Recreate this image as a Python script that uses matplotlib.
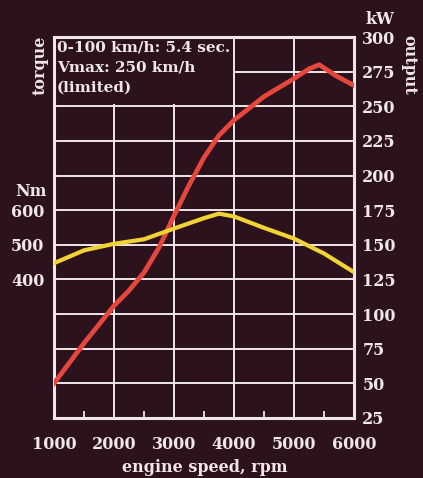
import matplotlib
matplotlib.use("Agg")
import matplotlib.pyplot as plt
from matplotlib.patches import Rectangle

# ---- data ----
rpm_power = [1000, 1500, 2000, 2250, 2500, 2750, 3000, 3250, 3500, 3750, 4000,
             4500, 5000, 5250, 5420, 5700, 6000]
power_kw = [50, 79, 106, 117, 130, 148, 171, 193, 213, 229, 240,
            257, 270, 277, 280, 272, 265]

rpm_torque = [1000, 1500, 2000, 2500, 3000, 3500, 3750, 4000, 4500, 5000, 5500, 6000]
torque_nm = [447, 484, 503, 516, 547, 577, 590, 582, 549, 518, 475, 421]

x_ticks = [1000, 2000, 3000, 4000, 5000, 6000]
kw_ticks = [25, 50, 75, 100, 125, 150, 175, 200, 225, 250, 275, 300]
nm_ticks = [400, 500, 600]
info_lines = ["0-100 km/h: 5.4 sec.", "Vmax: 250 km/h", "(limited)"]

# ---- style ----
BG = "#2c121c"
FG = "#efe6e8"
RED = "#e5473d"
YEL = "#f2d335"
FS = 11.5
plt.rcParams["font.family"] = ["DejaVu Serif"]
plt.rcParams["font.weight"] = "bold"

fig = plt.figure(figsize=(4.23, 4.78), dpi=100)
fig.patch.set_facecolor(BG)
ax = fig.add_axes([54/423, 1-418/478, 300/423, 381/478])
ax2 = ax.twinx()

ax.set_facecolor(BG)
ax.set_xlim(1000, 6000)
ax.set_ylim(25, 300)
ax.set_xticks(x_ticks)
ax.set_xticks([x + 500 for x in x_ticks[:-1]], minor=True)
ax.set_yticks(kw_ticks)
ax.grid(True, which="major", color=FG, linewidth=1.4)
ax.set_axisbelow(True)
ax.yaxis.tick_right()
ax.yaxis.set_label_position("right")
ax.tick_params(axis="y", which="both", length=0, pad=6, labelsize=FS,
               labelcolor=FG)
ax.tick_params(axis="x", which="major", length=0, pad=13, labelsize=FS,
               labelcolor=FG)
ax.tick_params(axis="x", which="minor", direction="in", length=5, width=1.3,
               color=FG)
for sp in ax.spines.values():
    sp.set_color(FG)
    sp.set_linewidth(2.2)

# info box hiding the grid
ax.add_patch(Rectangle((1000, 252), 2975, 48, facecolor=BG, edgecolor="none",
                       zorder=1))
for i, t in enumerate(info_lines):
    ax.text(1050, 297.5 - i * 14.5, t, ha="left", va="top", color=FG,
            fontsize=11, zorder=4)

ax.plot(rpm_power, power_kw, color=RED, linewidth=3.4,
        solid_joinstyle="round", zorder=3)

ax2.set_ylim(0, 1100)
ax2.patch.set_visible(False)
ax2.yaxis.tick_left()
ax2.set_yticks(nm_ticks)
ax2.tick_params(axis="y", length=0, pad=7, labelsize=FS, labelcolor=FG)
for sp in ax2.spines.values():
    sp.set_visible(False)
ax2.plot(rpm_torque, torque_nm, color=YEL, linewidth=3.0,
         solid_joinstyle="round", zorder=3)

txt = dict(color=FG, fontsize=FS)
fig.text(205/423, 1-467/478, "engine speed, rpm", ha="center", va="center", **txt)
fig.text(40/423, 1-65/478, "torque", ha="center", va="center", rotation=90, **txt)
fig.text(409/423, 1-65/478, "output", ha="center", va="center", rotation=270, **txt)
fig.text(380/423, 1-20/478, "kW", ha="center", va="center", **txt)
fig.text(31/423, 1-191/478, "Nm", ha="center", va="center", **txt)

fig.savefig("out.png", dpi=100, facecolor=BG)
